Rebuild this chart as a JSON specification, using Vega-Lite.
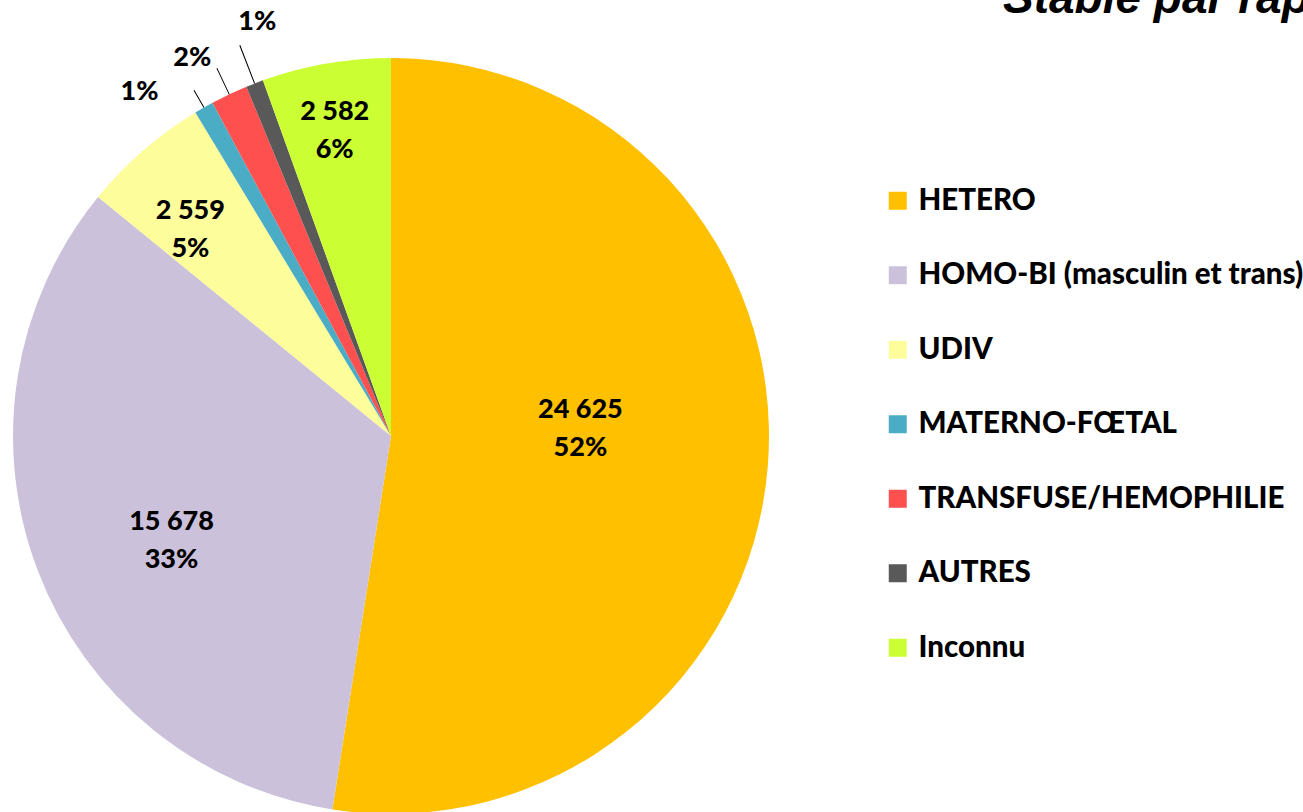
{
  "$schema": "https://vega.github.io/schema/vega-lite/v6.json",
  "width": 756,
  "height": 756,
  "autosize": {"type": "none"},
  "padding": {"left": 13, "top": 58, "right": 534, "bottom": 0},
  "background": "white",
  "title": {
    "text": "Stable par rapport",
    "anchor": "start",
    "frame": "group",
    "dx": 990,
    "dy": 51,
    "offset": 0,
    "baseline": "alphabetic",
    "font": "Liberation Sans",
    "fontSize": 46,
    "fontStyle": "italic",
    "fontWeight": "bold",
    "color": "black"
  },
  "config": {"view": {"stroke": null}},
  "data": {
    "values": [
      {"cat": "HETERO", "value": 24625, "order": 1},
      {"cat": "HOMO-BI (masculin et trans)", "value": 15678, "order": 2},
      {"cat": "UDIV", "value": 2559, "order": 3},
      {"cat": "MATERNO-FŒTAL", "value": 390, "order": 4},
      {"cat": "TRANSFUSE/HEMOPHILIE", "value": 740, "order": 5},
      {"cat": "AUTRES", "value": 350, "order": 6},
      {"cat": "Inconnu", "value": 2582, "order": 7}
    ]
  },
  "transform": [
    {"joinaggregate": [{"op": "sum", "field": "value", "as": "total"}]},
    {"window": [{"op": "sum", "field": "value", "as": "cum"}], "sort": [{"field": "order"}], "frame": [null, 0]},
    {"calculate": "datum.cum - datum.value", "as": "start"},
    {"calculate": "datum.cum - datum.value / 2", "as": "mid"},
    {"calculate": "datum.mid - datum.total * 0.0002", "as": "lo"},
    {"calculate": "datum.mid + datum.total * 0.0002", "as": "hi"},
    {"calculate": "format(datum.value / datum.total, '.0%')", "as": "pct"},
    {"calculate": "replace(format(datum.value, ','), ',', ' ') + '\\n' + datum.pct", "as": "label"}
  ],
  "layer": [
    {
      "mark": {"type": "arc", "radius": 378},
      "encoding": {
        "theta": {"field": "cum", "type": "quantitative", "stack": null},
        "theta2": {"field": "start"},
        "color": {
          "field": "cat",
          "type": "nominal",
          "scale": {
            "domain": ["HETERO", "HOMO-BI (masculin et trans)", "UDIV", "MATERNO-FŒTAL", "TRANSFUSE/HEMOPHILIE", "AUTRES", "Inconnu"],
            "range": ["#FFC000", "#CCC1DA", "#FDFD9B", "#4BACC6", "#FF5050", "#595959", "#CCFF33"]
          },
          "legend": {
            "orient": "none",
            "legendX": 870,
            "legendY": 128,
            "title": null,
            "labelFont": "Lato",
            "labelFontSize": 29.5,
            "labelFontWeight": 900,
            "labelColor": "black",
            "symbolType": "square",
            "symbolSize": 324,
            "symbolStrokeWidth": 0,
            "labelOffset": 6,
            "rowPadding": 43.5,
            "labelLimit": 0
          }
        }
      }
    },
    {
      "transform": [{"filter": "datum.cat === 'MATERNO-FŒTAL'"}],
      "mark": {"type": "arc", "radius": 398, "radius2": 378, "color": "black"},
      "encoding": {"theta": {"field": "lo", "type": "quantitative", "stack": null}, "theta2": {"field": "hi"}}
    },
    {
      "transform": [{"filter": "datum.cat === 'TRANSFUSE/HEMOPHILIE'"}],
      "mark": {"type": "arc", "radius": 407, "radius2": 378, "color": "black"},
      "encoding": {"theta": {"field": "lo", "type": "quantitative", "stack": null}, "theta2": {"field": "hi"}}
    },
    {
      "transform": [{"filter": "datum.cat === 'AUTRES'"}],
      "mark": {"type": "arc", "radius": 419, "radius2": 378, "color": "black"},
      "encoding": {"theta": {"field": "lo", "type": "quantitative", "stack": null}, "theta2": {"field": "hi"}}
    },
    {
      "transform": [{"filter": "datum.cat === 'HETERO'"}],
      "mark": {"type": "text", "radius": 190, "dy": -41, "font": "Lato", "fontSize": 27, "fontWeight": 900, "color": "black", "lineBreak": "\n", "lineHeight": 38},
      "encoding": {"theta": {"field": "mid", "type": "quantitative", "stack": null}, "text": {"field": "label"}}
    },
    {
      "transform": [{"filter": "datum.cat === 'HOMO-BI (masculin et trans)'"}],
      "mark": {"type": "text", "radius": 235, "dy": 2, "font": "Lato", "fontSize": 27, "fontWeight": 900, "color": "black", "lineBreak": "\n", "lineHeight": 38},
      "encoding": {"theta": {"field": "mid", "type": "quantitative", "stack": null}, "text": {"field": "label"}}
    },
    {
      "transform": [{"filter": "datum.cat === 'UDIV'"}],
      "mark": {"type": "text", "radius": 280, "dx": -17, "dy": -14, "font": "Lato", "fontSize": 27, "fontWeight": 900, "color": "black", "lineBreak": "\n", "lineHeight": 38},
      "encoding": {"theta": {"field": "mid", "type": "quantitative", "stack": null}, "text": {"field": "label"}}
    },
    {
      "transform": [{"filter": "datum.cat === 'Inconnu'"}],
      "mark": {"type": "text", "radius": 310, "dx": -3, "dy": -19, "font": "Lato", "fontSize": 27, "fontWeight": 900, "color": "black", "lineBreak": "\n", "lineHeight": 38},
      "encoding": {"theta": {"field": "mid", "type": "quantitative", "stack": null}, "text": {"field": "label"}}
    },
    {
      "transform": [{"filter": "datum.cat === 'MATERNO-FŒTAL'"}],
      "mark": {"type": "text", "radius": 415, "dx": -46, "dy": 17, "font": "Lato", "fontSize": 27, "fontWeight": 900, "color": "black"},
      "encoding": {"theta": {"field": "mid", "type": "quantitative", "stack": null}, "text": {"field": "pct"}}
    },
    {
      "transform": [{"filter": "datum.cat === 'TRANSFUSE/HEMOPHILIE'"}],
      "mark": {"type": "text", "radius": 420, "dx": -19, "dy": 2, "font": "Lato", "fontSize": 27, "fontWeight": 900, "color": "black"},
      "encoding": {"theta": {"field": "mid", "type": "quantitative", "stack": null}, "text": {"field": "pct"}}
    },
    {
      "transform": [{"filter": "datum.cat === 'AUTRES'"}],
      "mark": {"type": "text", "radius": 440, "dx": 25, "dy": -4, "font": "Lato", "fontSize": 27, "fontWeight": 900, "color": "black"},
      "encoding": {"theta": {"field": "mid", "type": "quantitative", "stack": null}, "text": {"field": "pct"}}
    }
  ]
}
